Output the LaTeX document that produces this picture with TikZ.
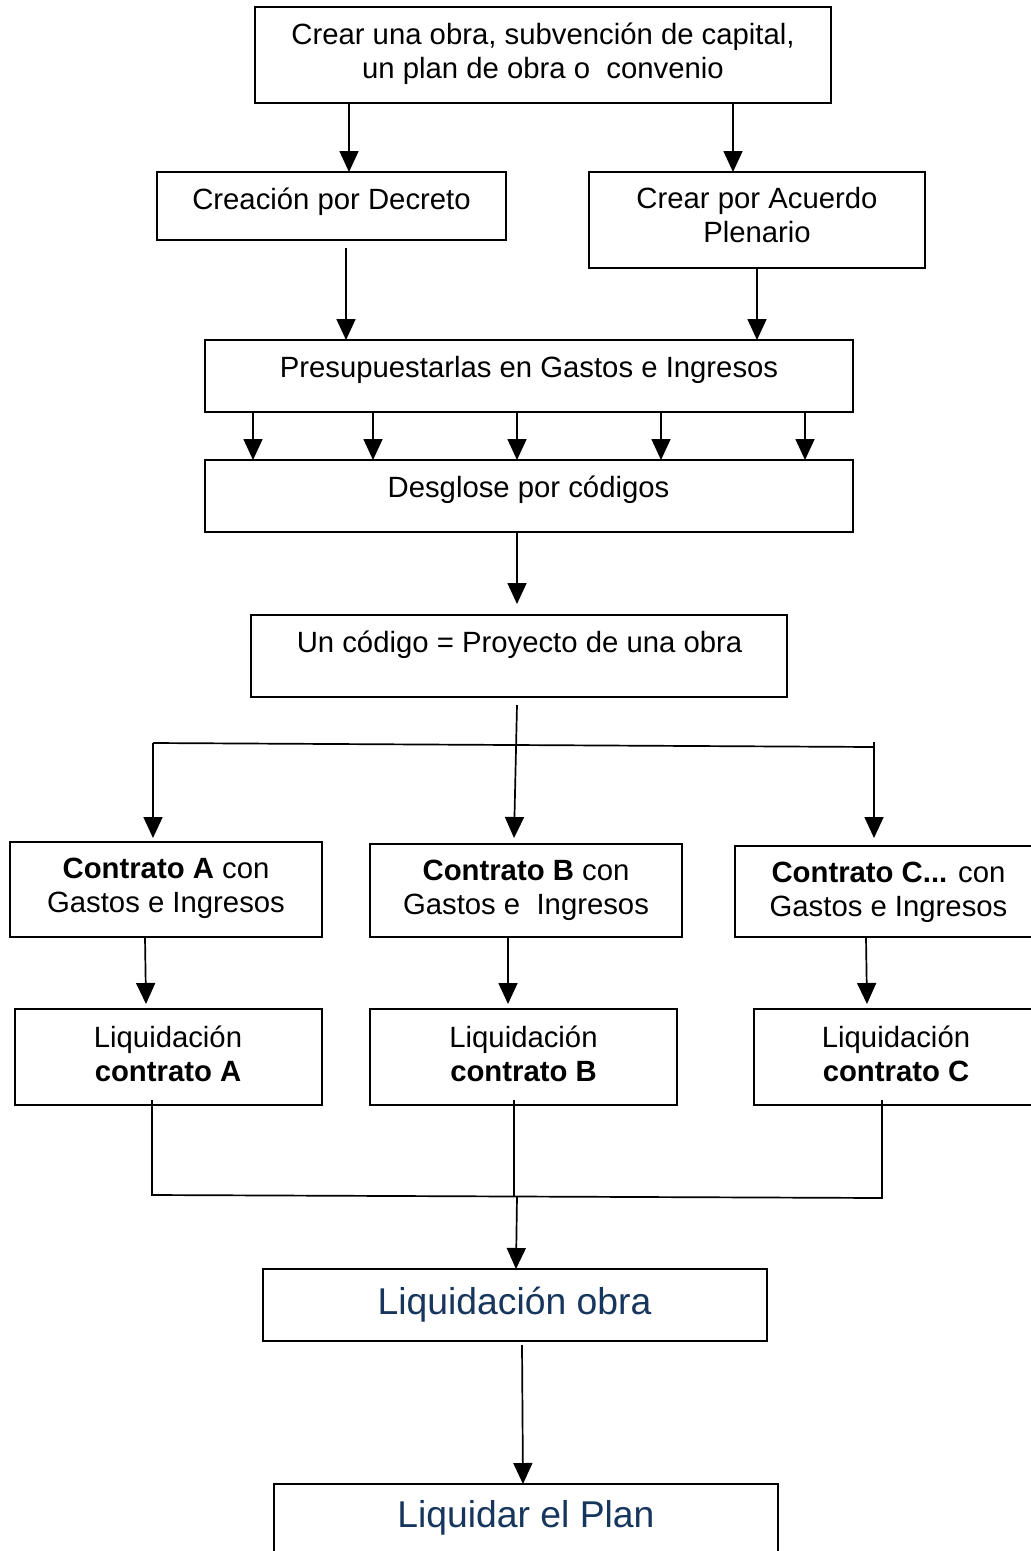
\documentclass[tikz,border=0pt]{standalone}
\usepackage{fontspec}
\setmainfont{Liberation Sans}
\usetikzlibrary{arrows.meta,calc}
\definecolor{navy}{RGB}{23,54,93}
\begin{document}
\begin{tikzpicture}[x=1pt,y=-1pt,
  box/.style={draw,line width=1.9pt,inner sep=0pt,outer sep=0pt},
  lbl/.style={inner sep=0pt,align=center,text height=0.72em,text depth=0pt,font=\fontsize{29.3}{34}\selectfont},
  big/.style={lbl,font=\fontsize{37.3}{44}\selectfont,text=navy},
  arr/.style={line width=1.7pt,-{Triangle[length=21pt,width=19pt]}},
  ln/.style={line width=1.7pt}]
\useasboundingbox (0,0) rectangle (1031,1551);
\clip (0,0) rectangle (1031,1551);
\fill[white] (0,0) rectangle (1031,1551);

% boxes
\node[box,minimum width=576pt,minimum height=96pt] (b1) at (543,55) {};
\node[box,minimum width=349pt,minimum height=68pt] (b2) at (331.5,206) {};
\node[box,minimum width=336pt,minimum height=96pt] (b3) at (757,220) {};
\node[box,minimum width=648pt,minimum height=72pt] (b4) at (529,376) {};
\node[box,minimum width=648pt,minimum height=72pt] (b5) at (529,496) {};
\node[box,minimum width=536pt,minimum height=82pt] (b6) at (519,656) {};
\node[box,minimum width=312pt,minimum height=95pt] (cA) at (166,889.5) {};
\node[box,minimum width=312pt,minimum height=93pt] (cB) at (526,890.5) {};
\node[box,minimum width=306pt,minimum height=91pt] (cC) at (888,891.5) {};
\node[box,minimum width=307pt,minimum height=96pt] (lA) at (168.5,1057) {};
\node[box,minimum width=307pt,minimum height=96pt] (lB) at (523.5,1057) {};
\node[box,minimum width=284pt,minimum height=96pt] (lC) at (896,1057) {};
\node[box,minimum width=504pt,minimum height=72pt] (lo) at (515,1305) {};
\node[box,minimum width=504pt,minimum height=96pt] (lp) at (526,1532) {};

% labels (position = last line)
\node[lbl] (t1) at (543,75) {Crear una obra, subvención de capital,\\un plan de obra o\ \ convenio};
\node[lbl] (t2) at (331.5,206) {Creación por Decreto};
\node[lbl] (t3) at (757,239) {Crear por Acuerdo\\Plenario};
\node[lbl] (t4) at (529,374) {Presupuestarlas en Gastos e Ingresos};
\node[lbl] (t5) at (528.5,494) {Desglose por códigos};
\node[lbl] (t6) at (519.5,649) {Un código = Proyecto de una obra};
\node[lbl] (tA) at (166,909) {\textbf{Contrato A} con\\Gastos e Ingresos};
\node[lbl] (tB) at (526,911) {\textbf{Contrato B} con\\Gastos e\ \ Ingresos};
\node[lbl] (tC) at (888.5,913) {\textbf{Contrato C...} con\\Gastos e Ingresos};
\node[lbl] (tlA) at (168,1078) {Liquidación\\\textbf{contrato A}};
\node[lbl] (tlB) at (523.5,1078) {Liquidación\\\textbf{contrato B}};
\node[lbl] (tlC) at (896,1078) {Liquidación\\\textbf{contrato C}};
\node[big] (tlo) at (514.5,1311) {Liquidación obra};
\node[big] (tlp) at (526,1524) {Liquidar el Plan};

% connectors
\draw[arr] (b1.south -| 349,0) -- (b2.north -| 349,0);
\draw[arr] (b1.south -| 733,0) -- (b3.north -| 733,0);
\draw[arr] ($(b2.south -| 346,0)+(0,8)$) -- (b4.north -| 346,0);
\draw[arr] (b3.south -| 757,0) -- (b4.north -| 757,0);
\foreach \x in {253,373,517,661,805}
  \draw[arr] (b4.south -| \x,0) -- (b5.north -| \x,0);
\draw[arr] (b5.south -| 517,0) -- ($(b6.north -| 517,0)+(0,-11)$);

\coordinate (hl) at (153,743);
\coordinate (hr) at (874,747);
\draw[ln] (hl) -- (hr);
\draw[arr] ($(b6.south -| 517,0)+(0,8)$) -- ($(cB.north -| 514,0)+(0,-6)$);
\draw[arr] (hl) -- ($(cA.north -| hl)+(0,-4)$);
\draw[arr] ($(hr)+(0,-5)$) -- ($(cC.north -| hr)+(0,-8)$);

\draw[arr] (cA.south -| 145,0) -- ($(lA.north -| 146,0)+(0,-5)$);
\draw[arr] (cB.south -| 508,0) -- ($(lB.north -| 508,0)+(0,-5)$);
\draw[arr] (cC.south -| 866,0) -- ($(lC.north -| 867,0)+(0,-5)$);

\coordinate (ma) at (152,1195);
\coordinate (mb) at (514,1197);
\coordinate (mc) at (882,1198);
\coordinate (mo) at (517,1196);
\draw[ln] ($(lA.south -| ma)+(0,-5)$) -- (ma) -- (mc) -- ($(lC.south -| mc)+(0,-5)$);
\draw[ln] ($(lB.south -| mb)+(0,-5)$) -- (mb);
\draw[arr] (mo) -- (lo.north -| 516,0);
\draw[arr] ($(lo.south -| 522,0)+(0,4)$) -- (lp.north -| 523,0);
\end{tikzpicture}
\end{document}
